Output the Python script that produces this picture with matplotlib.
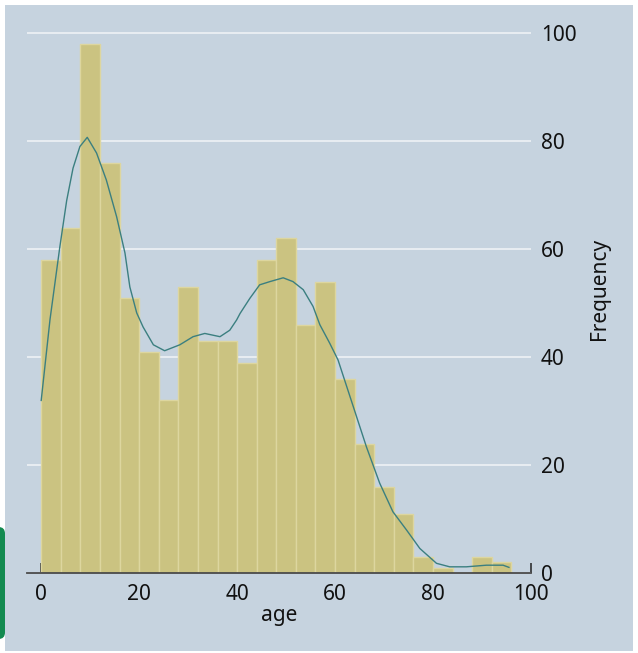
import matplotlib
matplotlib.use("Agg")
import matplotlib.pyplot as plt
from matplotlib.patches import Rectangle, FancyBboxPatch

plt.rcParams['font.family'] = ['Noto Sans', 'DejaVu Sans']

# histogram of age, bin width 4
bin_left = [0, 4, 8, 12, 16, 20, 24, 28, 32, 36, 40, 44, 48, 52, 56, 60,
            64, 68, 72, 76, 80, 84, 88, 92]
counts = [58, 64, 98, 76, 51, 41, 32, 53, 43, 43, 39, 58, 62, 46, 54, 36,
          24, 16, 11, 3, 1, 0, 3, 2]
bin_width = 4

# kernel density overlay, scaled to frequency
kde_x = [0, 1.8, 3.8, 5.2, 6.5, 7.9, 9.4, 11.3, 13.3, 15.4, 17.1, 18.1, 19.5,
         20.8, 22.9, 25.2, 28.3, 31.0, 33.4, 36.5, 38.5, 39.9, 40.6, 42.6,
         44.6, 46.7, 49.4, 51.4, 53.5, 55.5, 56.9, 58.9, 60.6, 63.7, 66.4,
         69.1, 71.8, 74.6, 77.3, 80.7, 83.4, 86.8, 90.9, 94.3, 95.5]
kde_y = [32, 47, 60.4, 69, 75, 79, 80.7, 77.8, 72.8, 66, 59.3, 53, 48.2,
         45.6, 42.3, 41.2, 42.3, 43.8, 44.4, 43.8, 45, 46.9, 48.1, 50.9,
         53.4, 54, 54.7, 54, 52.5, 49.4, 46, 42.6, 39.5, 30.9, 23.4,
         16.7, 11.4, 8, 4.6, 1.85, 1.2, 1.2, 1.5, 1.5, 1.1]

x_ticks = [0, 20, 40, 60, 80, 100]
y_ticks = [0, 20, 40, 60, 80, 100]

bg = '#c6d3df'
W, H = 638, 653
fig = plt.figure(figsize=(W / 100, H / 100), dpi=100, facecolor='white')

# panel background and the small green tab on the left edge
fig.patches.append(Rectangle((5 / W, 2 / H), 628 / W, 646 / H,
                             transform=fig.transFigure, facecolor=bg,
                             edgecolor='none', zorder=-10))
fig.patches.append(FancyBboxPatch((-6 / W, 14 / H), 11 / W, 112 / H,
                                  boxstyle='round,pad=0,rounding_size=0.01',
                                  transform=fig.transFigure, facecolor='#138a50',
                                  edgecolor='none', zorder=-5))

ax = fig.add_axes([27 / W, (H - 573.3) / H, 504 / W, 568.3 / H])
ax.set_facecolor('none')

ax.bar(bin_left, counts, width=bin_width, align='edge', color='#cbc381',
       edgecolor='#ddd69f', linewidth=1.0, zorder=2)
ax.plot(kde_x, kde_y, color='#3b7f80', linewidth=1.0, zorder=3)

ax.set_xlim(-2.9, 100)
ax.set_ylim(0, 105.2)

ax.set_xticks(x_ticks)
ax.set_yticks(y_ticks)
ax.yaxis.tick_right()
ax.yaxis.set_label_position('right')
ax.yaxis.grid(True, color='#eef2f5', linewidth=1.2)
ax.set_axisbelow(True)

for side in ['top', 'left', 'right']:
    ax.spines[side].set_visible(False)
ax.spines['bottom'].set_color('#4a4a4a')
ax.spines['bottom'].set_linewidth(1.3)

ax.tick_params(axis='x', direction='in', length=7, width=1.1, color='#222222',
               labelsize=15, pad=8, labelcolor='#111111')
ax.tick_params(axis='y', length=0, labelsize=15, pad=7, labelcolor='#111111')

ax.set_xlabel('age', fontsize=15, color='#111111', labelpad=0)
ax.set_ylabel('Frequency', fontsize=15, color='#111111', labelpad=9)

fig.savefig('out.png', dpi=100, facecolor='white')
